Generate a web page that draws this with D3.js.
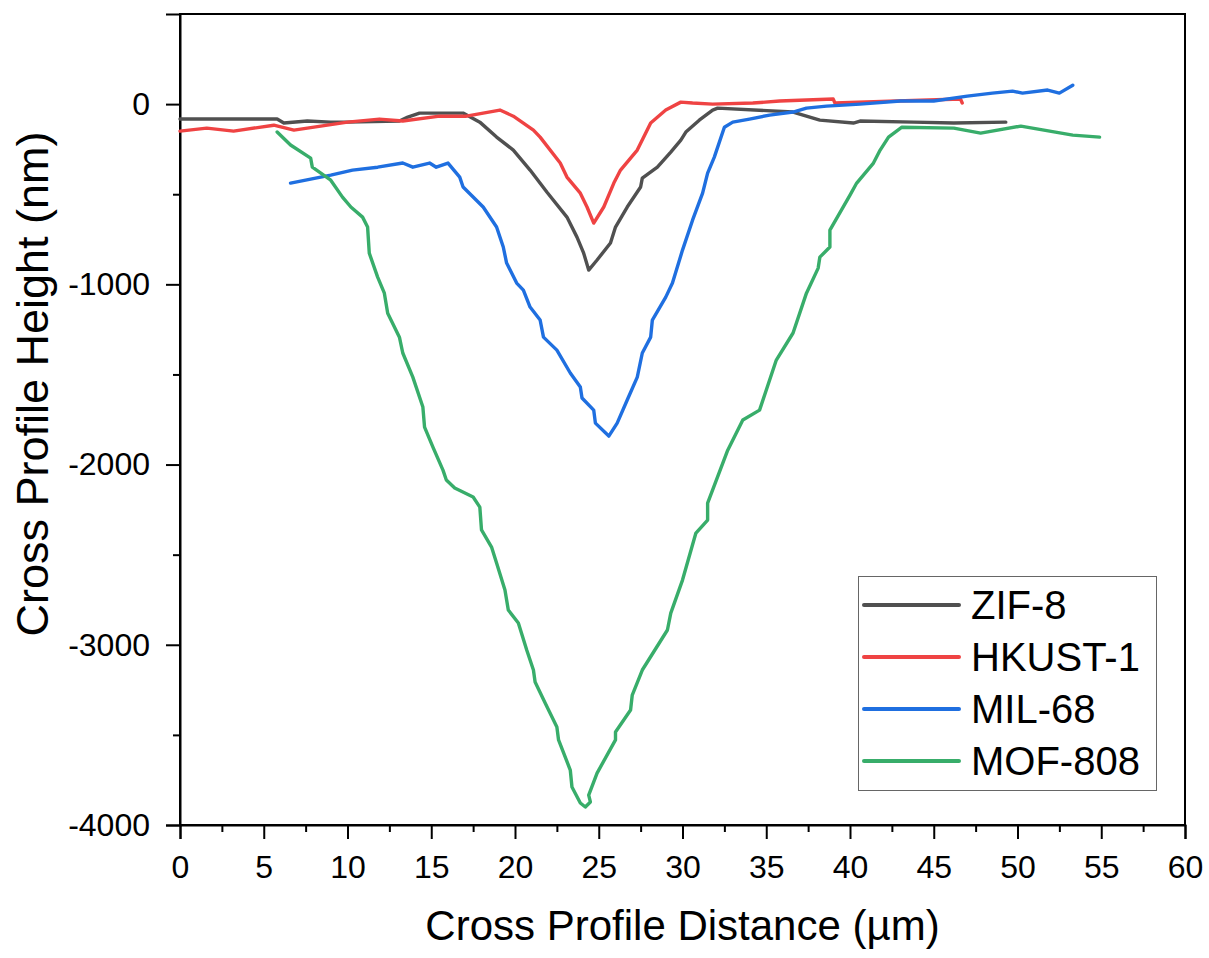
<!DOCTYPE html>
<html>
<head>
<meta charset="utf-8">
<script src="https://cdn.jsdelivr.net/npm/d3@7"></script>
<style>
  body { margin: 0; background: #fff; }
  svg text { font-family: "Liberation Sans", Arial, sans-serif; fill: #000; }
</style>
</head>
<body>
<div id="chart"></div>
<script>
// series names / colours
var seriesNames = ["ZIF-8", "HKUST-1", "MIL-68", "MOF-808"];
var seriesColors = ["#505050", "#ef4343", "#1f6fe0", "#38ad6a"];

// values (x in µm, y in nm)
var zifX = [0, 5.8, 6.2, 7.6, 9.0, 10.0, 13.1, 13.6, 14.3, 16.9, 17.9, 18.9, 19.9, 20.9, 21.9, 23.1, 23.7, 24.1, 24.4, 24.9, 25.7, 26.0, 26.7, 27.5, 27.6, 28.5, 29.3, 29.9, 30.2, 31.0, 31.8, 32.1, 36.6, 38.2, 40.2, 40.6, 43.8, 46.2, 49.3];
var zifY = [-83, -83, -105, -94, -100, -100, -94, -72, -50, -50, -100, -183, -255, -366, -488, -627, -738, -827, -921, -865, -771, -682, -571, -460, -411, -350, -266, -200, -155, -89, -33, -22, -44, -89, -105, -94, -100, -105, -100];

var hkustX = [0, 1.6, 3.2, 5.6, 6.8, 10.0, 11.9, 13.3, 15.5, 17.1, 19.1, 19.9, 21.1, 21.5, 22.7, 23.1, 23.9, 24.3, 24.7, 25.3, 25.9, 26.3, 27.3, 28.1, 29.0, 29.9, 30.6, 31.8, 34.2, 35.8, 39.0, 39.1, 42.8, 46.6, 46.7];
var hkustY = [-150, -133, -150, -117, -144, -100, -83, -94, -67, -67, -33, -67, -144, -183, -327, -405, -494, -571, -660, -571, -438, -366, -255, -105, -33, 11, 6, 0, 6, 17, 28, 6, 17, 28, 6];

var milX = [6.6, 9.0, 10.3, 11.8, 13.3, 13.9, 14.9, 15.3, 16.0, 16.7, 16.9, 18.1, 18.9, 19.3, 19.5, 20.1, 20.5, 20.9, 21.5, 21.7, 22.5, 23.3, 23.9, 24.0, 24.7, 24.8, 25.6, 26.1, 26.7, 27.3, 27.6, 28.1, 28.2, 29.0, 29.4, 30.0, 30.6, 31.2, 31.5, 31.9, 32.5, 33.0, 34.0, 35.2, 36.6, 37.4, 38.6, 40.6, 43.0, 45.0, 47.0, 48.5, 49.7, 50.3, 51.8, 52.5, 53.3];
var milY = [-438, -394, -366, -350, -327, -350, -327, -350, -327, -405, -460, -571, -682, -793, -882, -993, -1032, -1126, -1198, -1293, -1365, -1492, -1570, -1631, -1698, -1770, -1842, -1770, -1642, -1515, -1381, -1293, -1198, -1071, -993, -810, -644, -494, -383, -294, -128, -100, -83, -61, -44, -22, -11, 0, 17, 17, 44, 61, 72, 61, 78, 61, 105];

var mofX = [5.8, 6.6, 7.8, 7.9, 9.0, 9.7, 10.2, 10.9, 11.2, 11.3, 11.8, 12.2, 12.4, 13.1, 13.3, 13.9, 14.5, 14.6, 15.1, 15.7, 15.9, 16.4, 17.5, 17.9, 18.0, 18.6, 18.9, 19.4, 19.6, 20.2, 20.7, 21.1, 21.2, 21.8, 22.5, 22.6, 23.3, 23.4, 23.9, 24.2, 24.5, 24.4, 24.9, 26.0, 26.0, 26.9, 27.0, 27.6, 29.1, 29.3, 30.0, 30.8, 31.5, 31.5, 32.7, 33.6, 34.6, 35.6, 36.6, 37.4, 38.1, 38.2, 38.8, 38.8, 40.0, 40.4, 41.4, 41.8, 42.3, 43.1, 46.2, 47.8, 50.2, 53.3, 54.9];
var mofY = [-155, -227, -300, -350, -422, -516, -571, -627, -682, -827, -960, -1049, -1160, -1293, -1381, -1515, -1681, -1792, -1903, -2031, -2086, -2130, -2180, -2236, -2363, -2458, -2546, -2696, -2807, -2879, -3029, -3140, -3207, -3323, -3456, -3528, -3695, -3789, -3878, -3900, -3872, -3834, -3712, -3528, -3484, -3362, -3279, -3140, -2918, -2824, -2641, -2380, -2308, -2214, -1920, -1753, -1698, -1420, -1270, -1049, -910, -849, -793, -699, -505, -438, -327, -255, -183, -128, -133, -161, -122, -172, -183];

var xTicks = [0, 5, 10, 15, 20, 25, 30, 35, 40, 45, 50, 55, 60];
var yTicks = [-4000, -3000, -2000, -1000, 0];

var allX = [zifX, hkustX, milX, mofX];
var allY = [zifY, hkustY, milY, mofY];

var width = 1209, height = 958;
var margin = { top: 14, right: 24, bottom: 133, left: 180 };
var plotW = width - margin.left - margin.right;
var plotH = height - margin.top - margin.bottom;

var svg = d3.select("#chart").append("svg")
  .attr("width", width)
  .attr("height", height);

var g = svg.append("g")
  .attr("transform", "translate(" + margin.left + "," + margin.top + ")");

var xScale = d3.scaleLinear().domain([0, 60]).range([0, plotW]);
var yScale = d3.scaleLinear().domain([-4000, 500]).range([plotH, 0]);

// frame
g.append("rect")
  .attr("width", plotW).attr("height", plotH)
  .attr("fill", "none").attr("stroke", "#000").attr("stroke-width", 2);

// minor ticks
g.append("g")
  .attr("transform", "translate(0," + plotH + ")")
  .call(d3.axisBottom(xScale).tickValues(d3.range(2.5, 60, 5)).tickSize(7).tickFormat(""))
  .call(a => a.select(".domain").remove())
  .selectAll("line").attr("stroke-width", 2);
g.append("g")
  .call(d3.axisLeft(yScale).tickValues([-3500, -2500, -1500, -500]).tickSize(7).tickFormat(""))
  .call(a => a.select(".domain").remove())
  .selectAll("line").attr("stroke-width", 2);

// major axes
var xAxis = g.append("g")
  .attr("transform", "translate(0," + plotH + ")")
  .call(d3.axisBottom(xScale).tickValues(xTicks).tickSize(14).tickPadding(16).tickFormat(d => String(d)));
var yAxis = g.append("g")
  .call(d3.axisLeft(yScale).tickValues(yTicks).tickSize(14).tickPadding(16).tickFormat(d => String(d)));
[xAxis, yAxis].forEach(function (a) {
  a.select(".domain").attr("stroke-width", 2);
  a.selectAll("line").attr("stroke-width", 2);
  a.selectAll("text").attr("font-size", 32).attr("font-family", "Liberation Sans, Arial, sans-serif");
});

// lines
var line = d3.line()
  .x(d => xScale(d[0]))
  .y(d => yScale(d[1]));

g.append("g")
  .selectAll("path")
  .data(seriesNames)
  .enter().append("path")
  .attr("d", (d, i) => line(d3.zip(allX[i], allY[i])))
  .attr("fill", "none")
  .attr("stroke", (d, i) => seriesColors[i])
  .attr("stroke-width", 3.4)
  .attr("stroke-linejoin", "round")
  .attr("stroke-linecap", "round");

// axis titles
svg.append("text")
  .attr("x", margin.left + plotW / 2)
  .attr("y", 940)
  .attr("text-anchor", "middle")
  .attr("font-size", 42)
  .text("Cross Profile Distance (µm)");

svg.append("text")
  .attr("transform", "translate(48," + 384 + ") rotate(-90)")
  .attr("text-anchor", "middle")
  .attr("font-size", 45)
  .text("Cross Profile Height (nm)");

// legend
var legend = svg.append("g");
legend.append("rect")
  .attr("x", 858.5).attr("y", 576.5)
  .attr("width", 298).attr("height", 214)
  .attr("fill", "#fff").attr("stroke", "#666").attr("stroke-width", 1);

var items = legend.selectAll("g.item")
  .data(seriesNames)
  .enter().append("g")
  .attr("class", "item")
  .attr("transform", (d, i) => "translate(0," + (605 + i * 52) + ")");
items.append("line")
  .attr("x1", 864).attr("x2", 959)
  .attr("stroke", (d, i) => seriesColors[i])
  .attr("stroke-width", 4)
  .attr("stroke-linecap", "round");
items.append("text")
  .attr("x", 971).attr("y", 14)
  .attr("font-size", 40)
  .text(d => d);
</script>
</body>
</html>
